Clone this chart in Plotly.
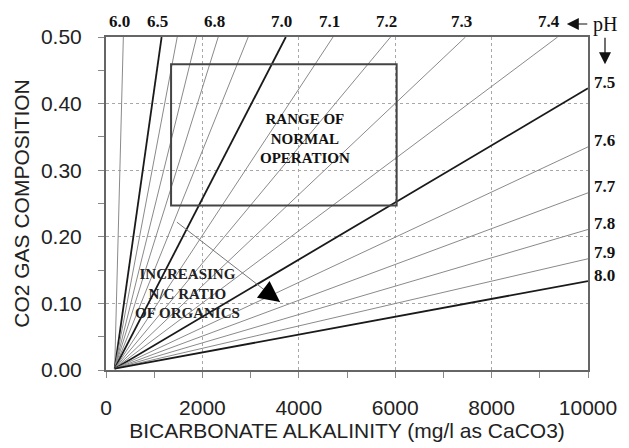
import plotly.graph_objects as go

# ---- data ----
ph_values = [6.0, 6.5, 6.6, 6.7, 6.8, 6.9, 7.0, 7.1, 7.2, 7.3, 7.4,
             7.5, 7.6, 7.7, 7.8, 7.9, 8.0]
start_alk = 180
start_co2 = 0.002
end_alk = [360, 1154, 1478, 1880, 2328, 2950, 3731, 4710, 5904, 7458, 9370,
           10000, 10000, 10000, 10000, 10000, 10000]
end_co2 = [0.5, 0.5, 0.5, 0.5, 0.5, 0.5, 0.5, 0.5, 0.5, 0.5, 0.5,
           0.423, 0.335, 0.266, 0.211, 0.167, 0.1335]
bold_ph = [6.5, 7.0, 7.5, 8.0]
top_labels = ["6.0", "6.5", "6.8", "7.0", "7.1", "7.2", "7.3", "7.4"]
right_labels = ["7.5", "7.6", "7.7", "7.8", "7.9", "8.0"]

normal_range_alk = [1350, 6030]
normal_range_co2 = [0.247, 0.459]
nc_arrow_alk = [1471, 3611]
nc_arrow_co2 = [0.222, 0.102]

x_ticks = [0, 2000, 4000, 6000, 8000, 10000]
y_ticks = [0.0, 0.1, 0.2, 0.3, 0.4, 0.5]

serif = "Liberation Serif, Times New Roman, serif"
sans = "Liberation Sans, Arial, sans-serif"

fig = go.Figure()
for ph, xa, ya in zip(ph_values, end_alk, end_co2):
    bold = ph in bold_ph
    fig.add_trace(go.Scatter(
        x=[start_alk, xa], y=[start_co2, ya], mode="lines",
        line=dict(color="#1a1a1a" if bold else "#8a8a8a", width=1.8 if bold else 1),
        hoverinfo="skip", showlegend=False))

# rectangle: range of normal operation
fig.add_shape(type="rect", xref="x", yref="y",
              x0=normal_range_alk[0], x1=normal_range_alk[1],
              y0=normal_range_co2[0], y1=normal_range_co2[1],
              line=dict(color="#444444", width=2))

annotations = []
# top pH labels
for lab in top_labels:
    i = ph_values.index(float(lab))
    shift = -180 if lab == "7.4" else -80
    annotations.append(dict(x=end_alk[i] + shift, y=0.5, xref="x", yref="y",
                            text="<b>%s</b>" % lab, showarrow=False,
                            yanchor="bottom", yshift=4,
                            font=dict(family=serif, size=17, color="#111")))
# right pH labels
for lab in right_labels:
    i = ph_values.index(float(lab))
    annotations.append(dict(x=10000, y=end_co2[i], xref="x", yref="y",
                            text="<b>%s</b>" % lab, showarrow=False,
                            xanchor="left", xshift=4, yshift=6,
                            font=dict(family=serif, size=17, color="#111")))

# pH marker with arrows
annotations.append(dict(x=1.0, y=0.5, xref="paper", yref="y", text="pH",
                        showarrow=False, xanchor="left", xshift=3, yshift=13,
                        font=dict(family=serif, size=20, color="#111")))
annotations.append(dict(x=9560, y=0.5, xref="x", yref="y", yshift=13,
                        showarrow=True, ax=22, ay=0, text="",
                        arrowhead=2, arrowsize=2.0, arrowwidth=1.2,
                        arrowcolor="#111"))
annotations.append(dict(x=1.0, y=0.459, xref="paper", yref="y", xshift=17,
                        showarrow=True, ax=0, ay=-28, text="",
                        arrowhead=2, arrowsize=2.0, arrowwidth=1.2,
                        arrowcolor="#111"))

# normal operation text
annotations.append(dict(x=4130, y=0.347, xref="x", yref="y",
                        text="<b>RANGE OF<br>NORMAL<br>OPERATION</b>",
                        showarrow=False,
                        font=dict(family=serif, size=15, color="#111")))
# N/C arrow: grey shaft, black head
fig.add_shape(type="line", xref="x", yref="y",
              x0=nc_arrow_alk[0], y0=nc_arrow_co2[0],
              x1=nc_arrow_alk[1], y1=nc_arrow_co2[1],
              line=dict(color="#777777", width=1))
annotations.append(dict(x=nc_arrow_alk[1], y=nc_arrow_co2[1], xref="x", yref="y",
                        showarrow=True, ax=-16, ay=-12, text="",
                        arrowhead=2, arrowsize=2.8, arrowwidth=1.5,
                        arrowcolor="#000000"))
annotations.append(dict(x=1700, y=0.115, xref="x", yref="y",
                        text="<b>INCREASING<br>N/C RATIO<br>OF ORGANICS</b>",
                        showarrow=False,
                        font=dict(family=serif, size=15, color="#222")))

fig.update_layout(
    width=629, height=448,
    margin=dict(l=106, r=41, t=37, b=70),
    paper_bgcolor="white", plot_bgcolor="white",
    annotations=annotations,
    showlegend=False,
)
fig.update_xaxes(
    range=[0, 10000], tickvals=x_ticks, ticktext=[str(v) for v in x_ticks],
    showgrid=True, gridcolor="#a8a8a8", griddash="dot", gridwidth=1,
    showline=True, linecolor="#666666", linewidth=2, mirror=True,
    ticks="outside", ticklen=6, tickcolor="#888888", tickwidth=1,
    minor=dict(dtick=1000, ticks="outside", ticklen=6, tickcolor="#888888",
               showgrid=False),
    ticklabelstandoff=12,
    zeroline=False,
    tickfont=dict(family=sans, size=21, color="#222"),
    title=dict(text="BICARBONATE ALKALINITY (mg/l as CaCO3)",
               font=dict(family=sans, size=21, color="#222"), standoff=2),
)
fig.update_yaxes(
    range=[0, 0.5], tickvals=y_ticks, ticktext=["%.2f" % v for v in y_ticks],
    showgrid=True, gridcolor="#a8a8a8", griddash="dot", gridwidth=1,
    showline=True, linecolor="#666666", linewidth=2, mirror=True,
    ticks="outside", ticklen=6, tickcolor="#888888", tickwidth=1,
    minor=dict(dtick=0.05, ticks="outside", ticklen=6, tickcolor="#888888",
               showgrid=False),
    ticklabelstandoff=12,
    zeroline=False,
    tickfont=dict(family=sans, size=21, color="#222"),
    title=dict(text="CO2 GAS COMPOSITION",
               font=dict(family=sans, size=21, color="#222"), standoff=6),
)

fig.write_html("out.html")
